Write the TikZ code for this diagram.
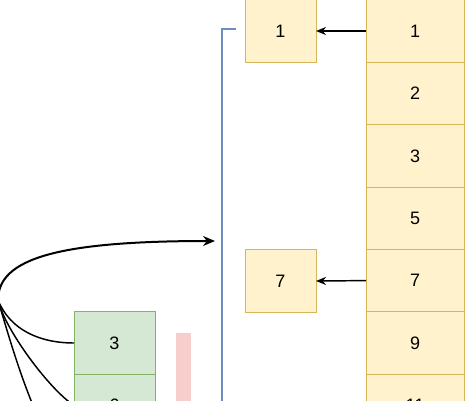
\documentclass[tikz,border=0pt]{standalone}
\usepackage{fontspec}
\setmainfont{Liberation Sans}
\usetikzlibrary{positioning,arrows.meta}
\definecolor{yellowfill}{HTML}{FFF2CC}
\definecolor{yellowline}{HTML}{D6B656}
\definecolor{greenfill}{HTML}{D5E8D4}
\definecolor{greenline}{HTML}{82B366}
\definecolor{pinkfill}{HTML}{F8CECC}
\definecolor{blueline}{HTML}{6C8EBF}

\begin{document}
\begin{tikzpicture}[x=0.75pt, y=-0.75pt, >=Stealth,
  font=\fontsize{13.5}{16}\selectfont,
  cell/.style={draw=yellowline, fill=yellowfill, line width=0.75pt, outer sep=0pt,
               minimum width=73.5pt, minimum height=46.8pt},
  pick/.style={cell, minimum width=53.25pt},
  gcell/.style={draw=greenline, fill=greenfill, line width=0.75pt, outer sep=0pt,
                minimum width=60.75pt, minimum height=46.8pt},
  link/.style={->, line width=1.1pt, >={Stealth[length=7.5pt, width=6pt]}}]
  \useasboundingbox (0,0) rectangle (467,400);
  \clip (0,0) rectangle (467,400);

  % sorted column on the right
  \node[cell] (r1) at (415,31) {1};
  \node[cell, below=0pt of r1] (r2) {2};
  \node[cell, below=0pt of r2] (r3) {3};
  \node[cell, below=0pt of r3] (r5) {5};
  \node[cell, below=0pt of r5] (r7) {7};
  \node[cell, below=0pt of r7] (r9) {9};
  \node[cell, below=0pt of r9] (r11) {11};

  % picked values
  \node[pick] (p1) at (280.5,31) {1};
  \node[pick] (p7) at (280.5,281) {7};
  \draw[link] (r1.west) -- (p1.east);
  \draw[link] (r7.west) -- (p7.east);

  % bracket
  \coordinate (btop) at (236,29);
  \coordinate (bend) at (222,410);
  \draw[blueline, line width=1.8pt] (btop) -| (bend);

  % stack on the left
  \node[gcell] (g3) at (114.5,343) {3};
  \node[gcell, below=0pt of g3] (g6) {6};
  \node[fill=pinkfill, inner sep=0pt, outer sep=0pt, anchor=north,
        minimum width=11.25pt, minimum height=60pt] (bar) at (183.5,333) {};

  % curved links
  \coordinate (src) at (-2,300);
  \coordinate (hit) at (215,241);
  \coordinate (low) at (74,467);
  \draw[->, line width=1.5pt, >={Stealth[length=9pt, width=7.5pt]}]
        (src) .. controls (-2,258) and (60,241) .. (hit);
  \draw[line width=1.1pt] (src) .. controls (10,330) and (40,343) .. (g3.west);
  \draw[line width=1.1pt] (src) .. controls (5,330) and (50,390) .. (g6.west);
  \draw[line width=1.1pt] (src) .. controls (10,340) and (40,450) .. (low);
\end{tikzpicture}
\end{document}
